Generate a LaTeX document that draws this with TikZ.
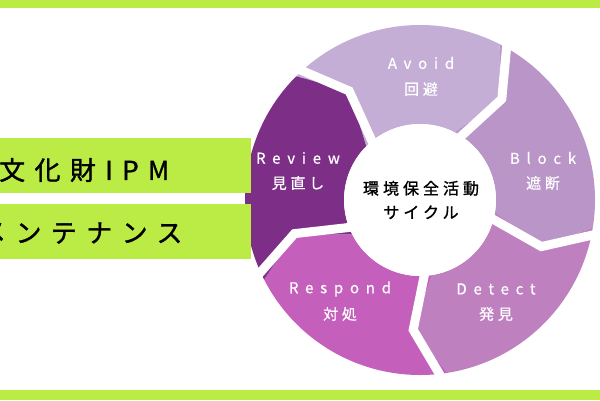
\documentclass[tikz,border=0pt]{standalone}
\usepackage{fontspec}
\setmainfont{Noto Sans CJK JP}
\newfontfamily\jpb{Noto Sans CJK JP}[FakeBold=1.2]
\newfontfamily\jpm{Noto Sans CJK JP}[FakeBold=0.6]
\definecolor{lime}{HTML}{BBEB45}
\definecolor{cReview}{HTML}{7D2E87}
\definecolor{cAvoid}{HTML}{C4AED6}
\definecolor{cBlock}{HTML}{B995C8}
\definecolor{cDetect}{HTML}{BF80C0}
\definecolor{cRespond}{HTML}{C45FBC}
\tikzset{
  seglabel/.style={text=white, inner sep=0pt, font=\jpm\fontsize{15}{17}\selectfont\addfontfeatures{LetterSpace=45}},
  segjp/.style={text=white, inner sep=0pt, font=\jpm\fontsize{15}{17}\selectfont\addfontfeatures{LetterSpace=25}},
  centertext/.style={text=black, inner sep=0pt, align=center, font=\jpb\fontsize{16}{24}\selectfont\addfontfeatures{LetterSpace=25}},
  bartext/.style={text=black, inner sep=0pt, anchor=west, font=\jpb\fontsize{26}{30}\selectfont\addfontfeatures{LetterSpace=36}},
  gap/.style={white, line width=9pt, line join=miter}
}
\begin{document}
\begin{tikzpicture}[x=1pt,y=1pt]
\useasboundingbox (0,0) rectangle (600,400);
\clip (0,0) rectangle (600,400);
\fill[white] (0,0) rectangle (600,400);
% bands
\fill[lime] (0,392) rectangle (600,400);
\fill[lime] (0,0) rectangle (600,10);
% ring
\begin{scope}[shift={(420,200)}]
  \foreach \a/\c in {135/cAvoid, 63/cBlock, -9/cDetect, -81/cRespond, -153/cReview}{
    \fill[\c] (\a:175) arc[start angle=\a, end angle=\a-72, radius=175]
      -- (\a-84:130) -- (\a-72:76) arc[start angle=\a-72, end angle=\a, radius=76]
      -- (\a-12:130) -- cycle;
  }
  \begin{scope}
    \clip (0,0) circle[radius=176];
    \foreach \a in {135, 63, -9, -81, -153}{
      \draw[gap] (\a:195) -- (\a-12:130) -- (\a:55);
    }
  \end{scope}
  \fill[white] (0,0) circle[radius=76];
\end{scope}
% center text
\node[centertext] (center) at (421,200) {環境保全活動\\サイクル};
% labels
\node[seglabel] (avoid) at (421,337) {Avoid};
\node[segjp] (avoidjp) at (421,311) {回避};
\node[seglabel] (block) at (543,242) {Block};
\node[segjp] (blockjp) at (543,217) {遮断};
\node[seglabel] (detect) at (496,111) {Detect};
\node[segjp] (detectjp) at (496,86) {発見};
\node[seglabel] (respond) at (340,111) {Respond};
\node[segjp] (respondjp) at (340,86) {対処};
\node[seglabel] (review) at (298,242) {Review};
\node[segjp] (reviewjp) at (298,217) {見直し};
% left bars
\fill[lime] (0,207) rectangle (251,262);
\fill[lime] (0,141) rectangle (251,196);
\node[bartext] (title1) at (-1,230) {文化財IPM};
\node[bartext] (title2) at (-20,167) {メンテナンス};
\end{tikzpicture}
\end{document}
